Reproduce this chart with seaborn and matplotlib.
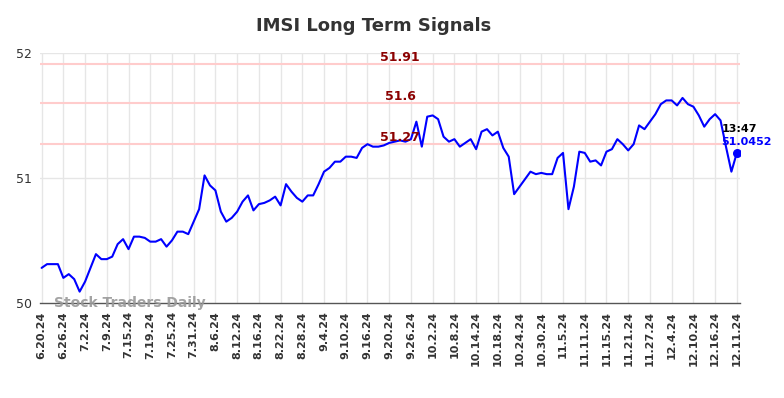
import numpy as np
import pandas as pd
import matplotlib
matplotlib.use('Agg')
import matplotlib.pyplot as plt
import seaborn as sns

# price values, one per trading day
prices = [
    50.28, 50.31, 50.31, 50.31, 50.20, 50.23, 50.19, 50.09, 50.17, 50.28,
    50.39, 50.35, 50.35, 50.37, 50.47, 50.51, 50.43, 50.53, 50.53, 50.52,
    50.49, 50.49, 50.51, 50.45, 50.50, 50.57, 50.57, 50.55, 50.65, 50.75,
    51.02, 50.94, 50.90, 50.73, 50.65, 50.68, 50.73, 50.81, 50.86, 50.74,
    50.79, 50.80, 50.82, 50.85, 50.78, 50.95, 50.89, 50.84, 50.81, 50.86,
    50.86, 50.95, 51.05, 51.08, 51.13, 51.13, 51.17, 51.17, 51.16, 51.24,
    51.27, 51.25, 51.25, 51.26, 51.28, 51.29, 51.30, 51.29, 51.31, 51.45,
    51.25, 51.49, 51.50, 51.47, 51.33, 51.29, 51.31, 51.25, 51.28, 51.31,
    51.23, 51.37, 51.39, 51.34, 51.37, 51.24, 51.17, 50.87, 50.93, 50.99,
    51.05, 51.03, 51.04, 51.03, 51.03, 51.16, 51.20, 50.75, 50.93, 51.21,
    51.20, 51.13, 51.14, 51.10, 51.21, 51.23, 51.31, 51.27, 51.22, 51.27,
    51.42, 51.39, 51.45, 51.51, 51.59, 51.62, 51.62, 51.58, 51.64, 51.59,
    51.57, 51.50, 51.41, 51.47, 51.51, 51.46, 51.25, 51.05, 51.20,
]

tick_labels = [
    '6.20.24', '6.26.24', '7.2.24', '7.9.24', '7.15.24', '7.19.24', '7.25.24',
    '7.31.24', '8.6.24', '8.12.24', '8.16.24', '8.22.24', '8.28.24', '9.4.24',
    '9.10.24', '9.16.24', '9.20.24', '9.26.24', '10.2.24', '10.8.24',
    '10.14.24', '10.18.24', '10.24.24', '10.30.24', '11.5.24', '11.11.24',
    '11.15.24', '11.21.24', '11.27.24', '12.4.24', '12.10.24', '12.16.24',
    '12.11.24',
]

signal_levels = [51.91, 51.6, 51.27]
signal_texts = ['51.91', '51.6', '51.27']

last_time = '13:47'
last_label = '51.0452'

df = pd.DataFrame({'idx': np.arange(len(prices)), 'price': prices})

sns.set_style("white")
fig = plt.figure(figsize=(7.84, 3.98), dpi=100)
ax = fig.add_axes([0.051, 0.239, 0.893, 0.628])

# grid
tick_pos = list(range(0, len(prices), 4))
for p in tick_pos:
    ax.axvline(p, color='#e6e6e6', lw=1, zorder=0)
for yv in [51, 52]:
    ax.axhline(yv, color='#e6e6e6', lw=1, zorder=0)

# signal lines
for lvl, txt in zip(signal_levels, signal_texts):
    ax.axhline(lvl, color='#ffcccc', lw=1.5, zorder=1)
    ax.text(66, lvl + 0.055, txt, color='#8b0000', fontsize=9, fontweight='bold',
            ha='center', va='center', zorder=3)

sns.lineplot(data=df, x='idx', y='price', color='#0000ff', lw=1.5, ax=ax, zorder=2)
ax.scatter([df['idx'].iloc[-1]], [df['price'].iloc[-1]], color='#0000ff', s=30, zorder=4)

ax.text(125.2, 51.39, last_time, color='black', fontsize=8, fontweight='bold',
        ha='left', va='center')
ax.text(125.2, 51.285, last_label, color='#0000ff', fontsize=8,
        fontweight='bold', ha='left', va='center')

ax.text(2.2, 50.0, 'Stock Traders Daily', color='#999999', fontsize=10, fontweight='bold',
        ha='left', va='center', alpha=0.9, zorder=5)

ax.set_xlim(-0.3, len(prices) - 0.4)
ax.set_ylim(50, 52)
ax.set_yticks([50, 51, 52])
ax.set_yticklabels(['50', '51', '52'], fontsize=9, color='#333333')
ax.set_xticks(tick_pos)
ax.set_xticklabels(tick_labels, rotation=90, fontsize=8, fontweight='bold', color='#333333')
ax.tick_params(axis='both', length=0, pad=6)
ax.set_xlabel('')
ax.set_ylabel('')

for s in ['top', 'right', 'left']:
    ax.spines[s].set_visible(False)
ax.spines['bottom'].set_color('#555555')
ax.spines['bottom'].set_linewidth(1)

fig.text(374 / 784, 1 - 26 / 398, 'IMSI Long Term Signals', fontsize=13, fontweight='bold',
         color='#333333', ha='center', va='center')

plt.savefig('out.png', dpi=100)
